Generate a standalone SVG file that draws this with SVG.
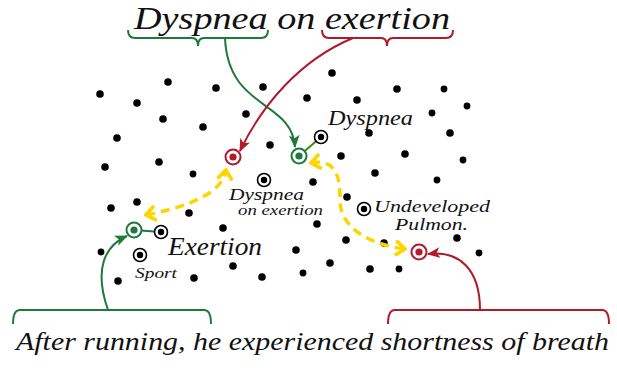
<svg xmlns="http://www.w3.org/2000/svg" width="617" height="380" viewBox="0 0 617 380">
<defs>
<style>
.dot{fill:#000}
.lbl{font-style:italic;fill:#111}
.g{stroke:#1e7a3a;fill:none;stroke-width:2}
.r{stroke:#b01a2a;fill:none;stroke-width:2}
.y{stroke:#ffd500;fill:none;stroke-width:3.5;stroke-dasharray:9 6}
</style>
<marker id="ag" viewBox="0 0 12 10" refX="11" refY="5" markerWidth="13" markerHeight="11" markerUnits="userSpaceOnUse" orient="auto"><path d="M0,0 L12,5 L0,10 L3,5 z" fill="#1e7a3a"/></marker>
<marker id="ar" viewBox="0 0 12 10" refX="11" refY="5" markerWidth="13" markerHeight="11" markerUnits="userSpaceOnUse" orient="auto"><path d="M0,0 L12,5 L0,10 L3,5 z" fill="#b01a2a"/></marker>
<marker id="ay" viewBox="0 0 12 16" refX="10" refY="8" markerWidth="13" markerHeight="17" markerUnits="userSpaceOnUse" orient="auto"><path d="M1,1 L10,8 L1,15" fill="none" stroke="#ffd500" stroke-width="3.5"/></marker>
<marker id="ays" viewBox="0 0 12 16" refX="10" refY="8" markerWidth="13" markerHeight="17" markerUnits="userSpaceOnUse" orient="auto-start-reverse"><path d="M1,1 L10,8 L1,15" fill="none" stroke="#ffd500" stroke-width="3.5"/></marker>
</defs>
<rect width="617" height="380" fill="#fff"/>

<g id="background-dots">
<circle class="dot" cx="100" cy="94" r="3.8"/><circle class="dot" cx="168" cy="82" r="3.8"/><circle class="dot" cx="216" cy="88" r="3.8"/><circle class="dot" cx="263" cy="87" r="3.8"/>
<circle class="dot" cx="137" cy="103" r="3.8"/><circle class="dot" cx="163" cy="119" r="3.8"/><circle class="dot" cx="203" cy="127" r="3.8"/><circle class="dot" cx="246" cy="114" r="3.8"/>
<circle class="dot" cx="117" cy="138" r="3.8"/><circle class="dot" cx="270" cy="145" r="3.8"/><circle class="dot" cx="105" cy="167" r="3.8"/><circle class="dot" cx="159" cy="162" r="3.8"/>
<circle class="dot" cx="193" cy="174" r="3.4"/><circle class="dot" cx="137" cy="202" r="3.8"/>
<circle class="dot" cx="332" cy="73" r="3.8"/><circle class="dot" cx="307" cy="98" r="3.8"/><circle class="dot" cx="357" cy="100" r="3.8"/><circle class="dot" cx="397" cy="89" r="3.8"/>
<circle class="dot" cx="444" cy="89" r="3.4"/><circle class="dot" cx="467" cy="106" r="3.4"/><circle class="dot" cx="432" cy="113" r="3.4"/><circle class="dot" cx="369" cy="133" r="3.8"/>
<circle class="dot" cx="450" cy="133" r="3.8"/><circle class="dot" cx="341" cy="156" r="3.8"/><circle class="dot" cx="405" cy="154" r="3.8"/><circle class="dot" cx="463" cy="160" r="3.4"/>
<circle class="dot" cx="375" cy="173" r="3.8"/><circle class="dot" cx="313" cy="182" r="3.8"/><circle class="dot" cx="437" cy="180" r="3.4"/><circle class="dot" cx="347" cy="197" r="3.8"/>
<circle class="dot" cx="111" cy="208" r="3.8"/><circle class="dot" cx="189" cy="213" r="3.8"/><circle class="dot" cx="223" cy="228" r="3.8"/><circle class="dot" cx="101" cy="252" r="3.4"/>
<circle class="dot" cx="233" cy="266" r="3.8"/><circle class="dot" cx="118" cy="281" r="3.8"/><circle class="dot" cx="194" cy="278" r="3.8"/><circle class="dot" cx="262" cy="277" r="3.8"/>
<circle class="dot" cx="317" cy="224" r="3.8"/><circle class="dot" cx="346" cy="240" r="3.8"/><circle class="dot" cx="384" cy="243" r="3.8"/><circle class="dot" cx="296" cy="250" r="3.8"/>
<circle class="dot" cx="330" cy="263" r="3.8"/><circle class="dot" cx="303" cy="273" r="3.4"/><circle class="dot" cx="370" cy="269" r="3.8"/><circle class="dot" cx="399" cy="269" r="3.4"/>
<circle class="dot" cx="457" cy="238" r="3.8"/><circle class="dot" cx="479" cy="253" r="3.4"/>
</g>

<g id="connectors">
<path class="g" d="M128,30 Q128,38 135,38 H192 Q198,38 198,46 Q198,38 204,38 H261 Q268,38 268,30"/>
<path class="r" d="M322,30 Q322,38 329,38 H381 Q387,38 387,46 Q387,38 393,38 H446 Q453,38 453,30"/>
<path class="g" d="M13,324 Q13,310 20,310 H204 Q211,310 211,324"/>
<path class="r" d="M388,324 Q388,310 395,310 H602 Q609,310 609,324"/>
<path class="g" d="M225,38 C228,110 292,100 295,147" marker-end="url(#ag)"/>
<path class="r" d="M353,38 C300,60 262,105 240,151" marker-end="url(#ar)"/>
<path class="g" d="M108,310 C94,270 104,246 127,236" marker-end="url(#ag)"/>
<path class="r" d="M480,310 C480,270 460,250 428,254" marker-end="url(#ar)"/>
<path class="y" d="M146,215 Q222,200 226,170" marker-start="url(#ays)" marker-end="url(#ay)"/>
<path class="y" d="M311,163 C338,158 340,180 340,200 C340,232 378,246 405,249" marker-start="url(#ays)" marker-end="url(#ay)"/>
<path d="M134,230 L161,232" stroke="#1e7a3a" stroke-width="2"/>
<path d="M299,156 L321,137" stroke="#3a8a1a" stroke-width="2"/>
</g>

<g id="node-red-exertion"><circle cx="233" cy="157" r="7.5" fill="#fff" stroke="#b01a2a" stroke-width="2"/><circle cx="233" cy="157" r="3.6" fill="#b01a2a"/></g>
<g id="node-green-dyspnea"><circle cx="299" cy="156" r="7.5" fill="#fff" stroke="#1e7a3a" stroke-width="2"/><circle cx="299" cy="156" r="3.6" fill="#1e7a3a"/></g>
<g id="node-green-exertion"><circle cx="134" cy="230" r="7.5" fill="#fff" stroke="#1e7a3a" stroke-width="2"/><circle cx="134" cy="230" r="3.6" fill="#1e7a3a"/></g>
<g id="node-red-pulmon"><circle cx="419" cy="252" r="7.5" fill="#fff" stroke="#b01a2a" stroke-width="2"/><circle cx="419" cy="252" r="3.6" fill="#b01a2a"/></g>

<g font-family="'Liberation Serif', 'DejaVu Serif', serif">
<g id="node-dyspnea"><circle cx="321" cy="137" r="6.5" fill="#fff" stroke="#000" stroke-width="1.6"/><circle cx="321" cy="137" r="3.2" fill="#000"/>
<text class="lbl" x="328" y="125" font-size="21" textLength="85" lengthAdjust="spacingAndGlyphs">Dyspnea</text></g>
<g id="node-dyspnea-on-exertion"><circle cx="264" cy="180" r="6.5" fill="#fff" stroke="#000" stroke-width="1.6"/><circle cx="264" cy="180" r="3.2" fill="#000"/>
<text class="lbl" x="229" y="200" font-size="17" textLength="75" lengthAdjust="spacingAndGlyphs">Dyspnea</text>
<text class="lbl" x="238" y="215" font-size="15" textLength="85" lengthAdjust="spacingAndGlyphs">on exertion</text></g>
<g id="node-exertion"><circle cx="161" cy="232" r="6.5" fill="#fff" stroke="#000" stroke-width="1.6"/><circle cx="161" cy="232" r="3.2" fill="#000"/>
<text class="lbl" x="168" y="255" font-size="25" textLength="94" lengthAdjust="spacingAndGlyphs">Exertion</text></g>
<g id="node-sport"><circle cx="140" cy="255" r="6.5" fill="#fff" stroke="#000" stroke-width="1.6"/><circle cx="140" cy="255" r="3.2" fill="#000"/>
<text class="lbl" x="135" y="278" font-size="14" textLength="42" lengthAdjust="spacingAndGlyphs">Sport</text></g>
<g id="node-undeveloped"><circle cx="364" cy="209" r="6.5" fill="#fff" stroke="#000" stroke-width="1.6"/><circle cx="364" cy="209" r="3.2" fill="#000"/>
<text class="lbl" x="374" y="212" font-size="17" textLength="116" lengthAdjust="spacingAndGlyphs">Undeveloped</text>
<text class="lbl" x="395" y="230" font-size="17" textLength="73" lengthAdjust="spacingAndGlyphs">Pulmon.</text></g>

<g id="title"><text class="lbl" x="134" y="29" font-size="32" textLength="316" lengthAdjust="spacingAndGlyphs">Dyspnea on exertion</text></g>
<g id="sentence"><text class="lbl" x="16" y="350" font-size="26" textLength="593" lengthAdjust="spacingAndGlyphs">After running, he experienced shortness of breath</text></g>
</g>
</svg>
